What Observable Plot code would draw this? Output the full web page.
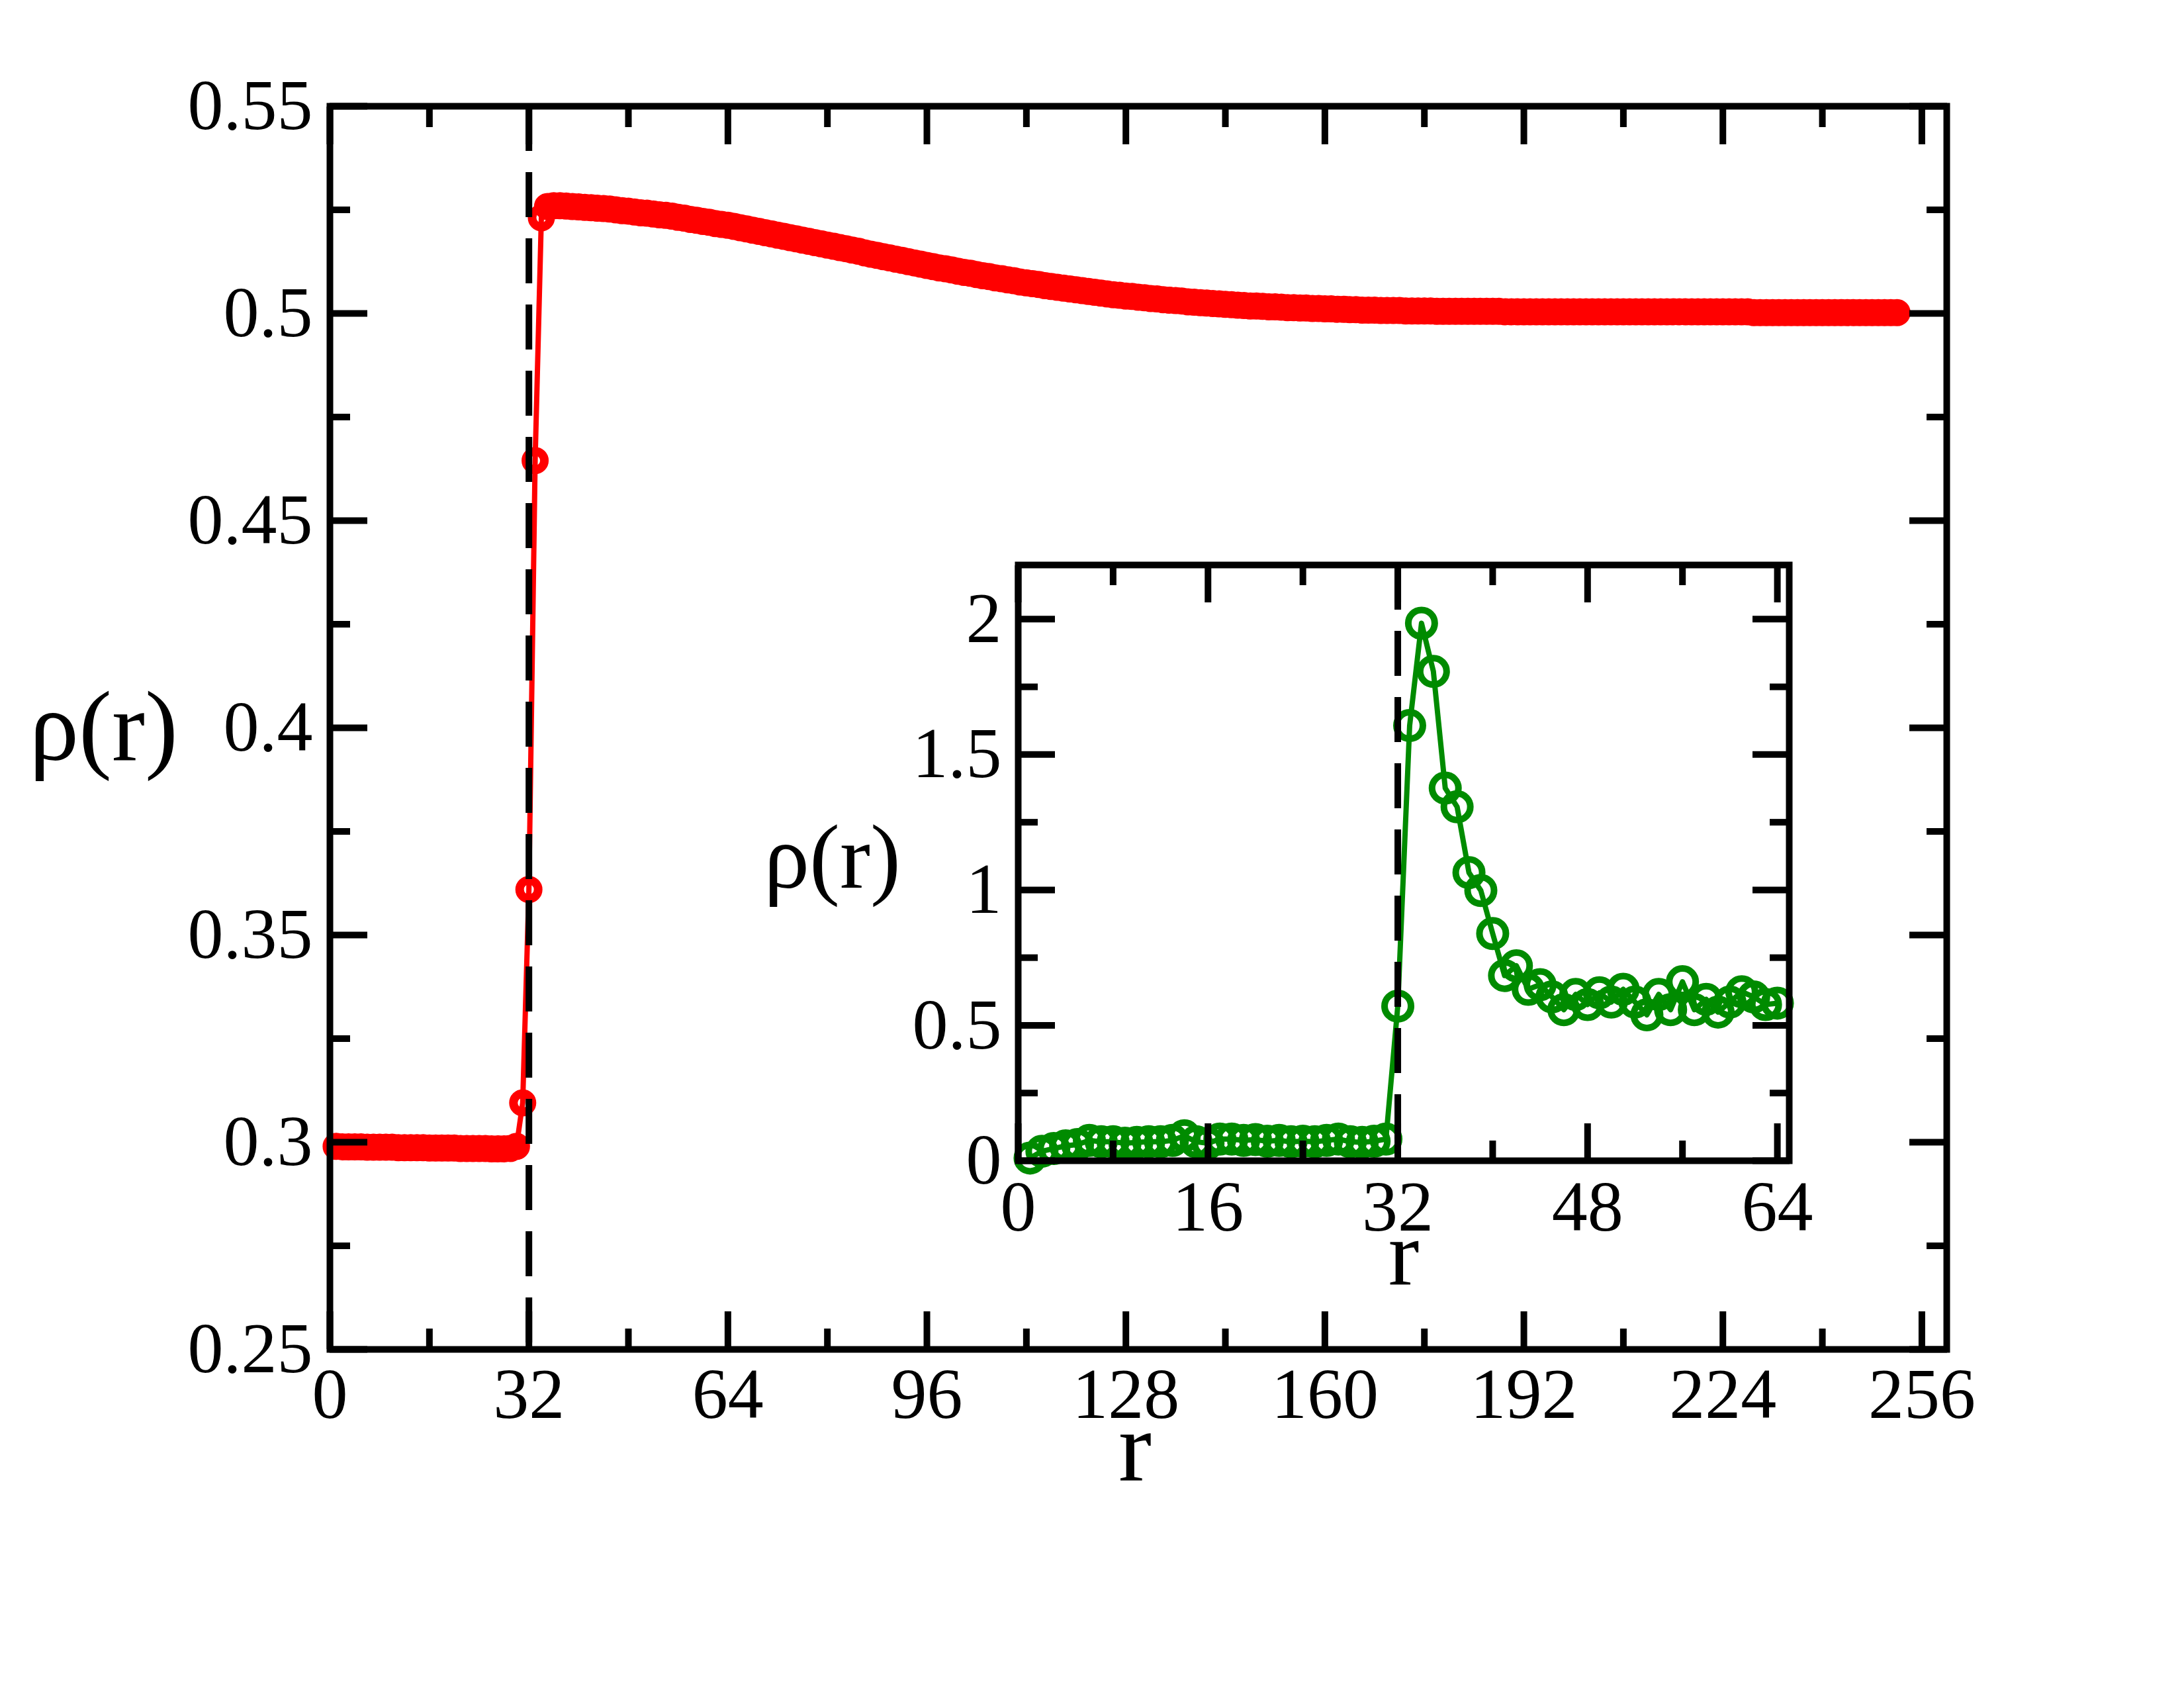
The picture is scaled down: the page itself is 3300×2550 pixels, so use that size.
<!DOCTYPE html>
<html>
<head>
<meta charset="utf-8">
<script src="https://cdn.jsdelivr.net/npm/d3@7"></script>
<script src="https://cdn.jsdelivr.net/npm/@observablehq/plot@0.6"></script>
<style>
  html, body { margin: 0; padding: 0; background: white; }
  #chart { position: relative; width: 3300px; height: 2550px; }
  #chart svg { position: absolute; left: 0; top: 0; }
</style>
</head>
<body>
<div id="chart"></div>
<script>
// ---------- main panel data: rho(r) sampled at r = 1, 2, ..., 252 ----------
const mainRho = [
  0.2990,0.2989,0.2989,0.2989,0.2989,0.2988,0.2988,0.2988,0.2988,0.2988,
  0.2987,0.2987,0.2987,0.2987,0.2987,0.2986,0.2986,0.2986,0.2986,0.2986,
  0.2985,0.2985,0.2985,0.2985,0.2985,0.2984,0.2984,0.2984,0.2985,0.2990,
  0.3095,0.3610,0.4645,0.5231,0.5258,
  0.5260,0.5260,0.5259,0.5258,0.5257,0.5256,0.5255,0.5254,0.5253,0.5252,
  0.5250,0.5248,0.5247,0.5245,0.5243,0.5242,0.5240,0.5238,0.5237,0.5235,
  0.5232,0.5230,0.5227,0.5225,0.5222,0.5220,0.5217,0.5215,0.5213,0.5210,
  0.5207,0.5204,0.5201,0.5198,0.5195,0.5192,0.5189,0.5186,0.5183,0.5180,
  0.5177,0.5174,0.5171,0.5168,0.5165,0.5162,0.5159,0.5156,0.5153,0.5150,
  0.5146,0.5143,0.5140,0.5137,0.5134,0.5131,0.5128,0.5125,0.5122,0.5119,
  0.5116,0.5113,0.5110,0.5108,0.5105,0.5102,0.5099,0.5097,0.5094,0.5091,
  0.5089,0.5086,0.5084,0.5081,0.5079,0.5076,0.5074,0.5072,0.5070,0.5067,
  0.5065,0.5063,0.5061,0.5059,0.5057,0.5055,0.5053,0.5051,0.5049,0.5047,
  0.5045,0.5044,0.5042,0.5041,0.5039,0.5038,0.5036,0.5035,0.5033,0.5032,
  0.5031,0.5030,0.5028,0.5027,0.5026,0.5025,0.5024,0.5023,0.5022,0.5021,
  0.5020,0.5019,0.5018,0.5018,0.5017,0.5016,0.5016,0.5015,0.5014,0.5014,
  0.5013,0.5013,0.5012,0.5012,0.5011,0.5011,0.5010,0.5010,0.5009,0.5009,
  0.5008,0.5008,0.5008,0.5007,0.5007,0.5007,0.5007,0.5006,0.5006,0.5006,
  0.5006,0.5006,0.5005,0.5005,0.5005,0.5005,0.5005,0.5005,0.5005,0.5005,
  0.5005,0.5005,0.5005,0.5004,0.5004,0.5004,0.5004,0.5004,0.5004,0.5004,
  0.5004,0.5004,0.5004,0.5004,0.5004,0.5004,0.5004,0.5004,0.5004,0.5004,
  0.5004,0.5004,0.5004,0.5004,0.5004,0.5004,0.5004,0.5004,0.5004,0.5004,
  0.5004,0.5004,0.5004,0.5004,0.5004,0.5004,0.5004,0.5004,0.5004,0.5004,
  0.5004,0.5004,0.5004,0.5002,0.5002,0.5002,0.5002,0.5002,0.5002,0.5002,
  0.5002,0.5002,0.5002,0.5002,0.5002,0.5002,0.5002,0.5002,0.5002,0.5002,
  0.5002,0.5002,0.5002,0.5002,0.5002,0.5002,0.5002
];
const mainR = d3.range(1, mainRho.length + 1);   // sampling grid r = 1..252

// ---------- inset data: rho(r) at integer r = 1..64 ----------
const insetR = d3.range(1, 65);
const insetRho = [
  0.010,0.035,0.045,0.055,0.060,0.075,0.070,0.070,0.065,0.068,
  0.070,0.070,0.075,0.092,0.070,0.065,0.080,0.080,0.075,0.078,
  0.072,0.075,0.070,0.072,0.070,0.075,0.080,0.070,0.068,0.072,
  0.080,0.571,1.607,1.985,1.807,1.376,1.307,1.064,0.998,0.839,
  0.684,0.720,0.633,0.650,0.605,0.558,0.614,0.577,0.620,0.586,
  0.633,0.586,0.539,0.614,0.558,0.661,0.558,0.596,0.549,0.586,
  0.624,0.605,0.577,0.582
];

// ---------- ticks ----------
const mainXMajor = [0, 32, 64, 96, 128, 160, 192, 224, 256];
const mainXMinor = [16, 48, 80, 112, 144, 176, 208, 240];
const mainYMajor = [0.25, 0.3, 0.35, 0.4, 0.45, 0.5, 0.55];
const mainYMinor = [0.275, 0.325, 0.375, 0.425, 0.475, 0.525];
const insetXMajor = [0, 16, 32, 48, 64];
const insetXMinor = [8, 24, 40, 56];
const insetYMajor = [0, 0.5, 1, 1.5, 2];
const insetYMinor = [0.25, 0.75, 1.25, 1.75];
const interfaceR = [32];

const mainData = mainR.map((r, i) => ({r, rho: mainRho[i]}));
const insetData = insetR.map((r, i) => ({r, rho: insetRho[i]}));

const FONT = "'Liberation Serif', 'Times New Roman', Times, serif";
const TICKFONT = 108;

function inwardTicks(xMaj, xMin, yMaj, yMin, big, small) {
  const o = {strokeWidth: 10, stroke: "black", fill: "none", label: null};
  const out = [];
  for (const a of ["bottom", "top"]) {
    out.push(Plot.axisX(xMaj, {...o, anchor: a, tickSize: -big}));
    out.push(Plot.axisX(xMin, {...o, anchor: a, tickSize: -small}));
  }
  for (const a of ["left", "right"]) {
    out.push(Plot.axisY(yMaj, {...o, anchor: a, tickSize: -big}));
    out.push(Plot.axisY(yMin, {...o, anchor: a, tickSize: -small}));
  }
  return out;
}

function tickLabels(xMaj, yMaj, padX, padY) {
  return [
    Plot.axisX(xMaj, {anchor: "bottom", tickSize: 0, tickPadding: padX, label: null,
      tickFormat: d => String(d), fontSize: TICKFONT, fill: "black"}),
    Plot.axisY(yMaj, {anchor: "left", tickSize: 0, tickPadding: padY, label: null,
      tickFormat: d => String(d), fontSize: TICKFONT, fill: "black"})
  ];
}

const main = Plot.plot({
  width: 3300, height: 2550,
  marginLeft: 498, marginRight: 359, marginTop: 160, marginBottom: 512,
  x: {domain: [0, 260], axis: null},
  y: {domain: [0.25, 0.55], axis: null},
  style: {fontFamily: FONT, fontSize: TICKFONT + "px", background: "white", color: "black"},
  marks: [
    Plot.line(mainData, {x: "r", y: "rho", stroke: "#ff0000", strokeWidth: 8}),
    Plot.dot(mainData, {x: "r", y: "rho", r: 14, stroke: "#ff0000", strokeWidth: 13, fill: "none"}),
    Plot.ruleX(interfaceR, {stroke: "black", strokeWidth: 10, strokeDasharray: "68,32"}),
    Plot.frame({stroke: "black", strokeWidth: 10}),
    ...inwardTicks(mainXMajor, mainXMinor, mainYMajor, mainYMinor, 57, 31),
    ...tickLabels(mainXMajor, mainYMajor, 27, 26),
    Plot.text(["r"], {frameAnchor: "bottom", lineAnchor: "middle", dx: -5, dy: 149, fontSize: 150, fill: "black"}),
    Plot.text(["ρ(r)"], {frameAnchor: "left", lineAnchor: "middle", dx: -342, dy: 0, fontSize: 150, textAnchor: "middle", fill: "black"})
  ]
});

const inset = Plot.plot({
  width: 3300, height: 2550,
  marginLeft: 1538, marginRight: 597, marginTop: 853, marginBottom: 797,
  x: {domain: [0, 65], axis: null},
  y: {domain: [0, 2.2], axis: null},
  style: {fontFamily: FONT, fontSize: TICKFONT + "px", background: "transparent", color: "black"},
  marks: [
    Plot.frame({fill: "white", stroke: "none"}),
    Plot.line(insetData, {x: "r", y: "rho", stroke: "#008b00", strokeWidth: 8}),
    Plot.dot(insetData, {x: "r", y: "rho", r: 20, stroke: "#008b00", strokeWidth: 10, fill: "none"}),
    Plot.ruleX(interfaceR, {stroke: "black", strokeWidth: 10, strokeDasharray: "68,32"}),
    Plot.frame({stroke: "black", strokeWidth: 10}),
    ...inwardTicks(insetXMajor, insetXMinor, insetYMajor, insetYMinor, 56, 30),
    ...tickLabels(insetXMajor, insetYMajor, 29, 25),
    Plot.text(["r"], {frameAnchor: "bottom", lineAnchor: "middle", dx: 0, dy: 143, fontSize: 140, fill: "black"}),
    Plot.text(["ρ(r)"], {frameAnchor: "left", lineAnchor: "middle", dx: -281, dy: -7, fontSize: 138, textAnchor: "middle", fill: "black"})
  ]
});

const el = document.getElementById("chart");
el.appendChild(main);
el.appendChild(inset);
</script>
</body>
</html>
